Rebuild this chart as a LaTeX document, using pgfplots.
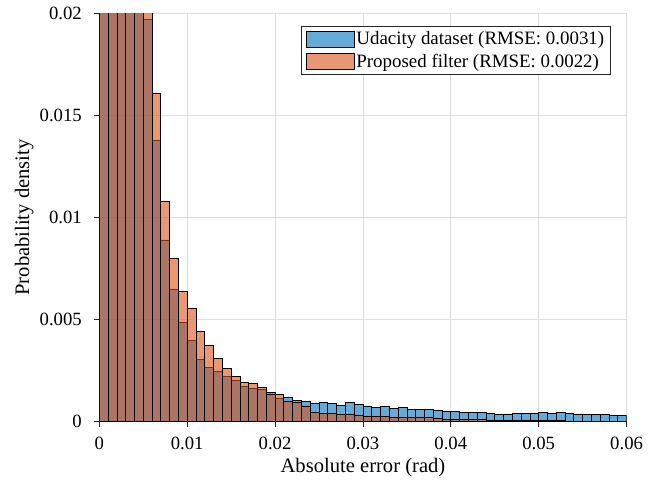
\documentclass[border=0pt]{standalone}
\usepackage{pgfplots}
\pgfplotsset{compat=1.18}
\usepackage{fontspec}
\setmainfont{Liberation Serif}
\definecolor{mblue}{RGB}{0,114,189}
\definecolor{morange}{RGB}{217,83,25}
\definecolor{axc}{RGB}{38,38,38}
\definecolor{gridc}{RGB}{222,222,222}
\begin{document}
\begin{tikzpicture}
\begin{axis}[
  scale only axis,
  width=527.3pt, height=408.4pt,
  xmin=0, xmax=0.06, ymin=0, ymax=0.02,
  axis lines*=left,
  axis line style={axc, line width=0.8pt},
  xtick={0,0.01,0.02,0.03,0.04,0.05,0.06},
  ytick={0,0.005,0.01,0.015,0.02},
  scaled ticks=false,
  xticklabels={0,0.01,0.02,0.03,0.04,0.05,0.06},
  yticklabels={0,0.005,0.01,0.015,0.02},
  tick align=outside,
  major tick length=5pt,
  tick style={axc, line width=0.8pt},
  grid=major,
  major grid style={gridc, line width=0.8pt},
  axis on top=false,
  ticklabel style={font=\fontsize{18.7}{22}\selectfont, text=black},
  xticklabel style={yshift=-7pt},
  yticklabel style={xshift=-9pt},
  xlabel={Absolute error (rad)},
  ylabel={Probability density},
  label style={font=\fontsize{20.6}{24}\selectfont},
  xlabel style={at={(axis description cs:0.5,0)}, anchor=center, yshift=-46pt},
  ylabel style={at={([xshift=-75pt]axis description cs:0,0.5)}, anchor=center},
  legend cell align=left,
  legend style={at={(1,1)}, anchor=north east, xshift=-16pt, yshift=-13pt,
    font=\fontsize{18.9}{22}\selectfont, draw=axc, line width=0.8pt,
    inner xsep=4pt, inner ysep=3pt, row sep=4pt},
]
\addplot[ybar interval, fill=mblue, fill opacity=0.6, draw=black, line width=0.75pt,
  legend image code/.code={\draw[fill=mblue, fill opacity=0.6, draw=black, line width=0.75pt] (0pt,-8pt) rectangle (48pt,8pt);}]
coordinates {
(0.000,0.025)(0.001,0.025)(0.002,0.025)(0.003,0.025)(0.004,0.025)(0.005,0.0197)(0.006,0.0138)(0.007,0.0089)(0.008,0.0065)(0.009,0.00485)
(0.010,0.0040)(0.011,0.00307)(0.012,0.00267)(0.013,0.00245)(0.014,0.00221)(0.015,0.00203)(0.016,0.00173)(0.017,0.00164)(0.018,0.00160)(0.019,0.00143)
(0.020,0.00116)(0.021,0.00119)(0.022,0.00106)(0.023,0.00098)(0.024,0.00092)(0.025,0.00093)(0.026,0.00088)(0.027,0.00080)(0.028,0.00095)(0.029,0.00086)
(0.030,0.00077)(0.031,0.00070)(0.032,0.00074)(0.033,0.00065)(0.034,0.00070)(0.035,0.00060)(0.036,0.00060)(0.037,0.00058)(0.038,0.00054)(0.039,0.00052)
(0.040,0.00049)(0.041,0.00047)(0.042,0.00046)(0.043,0.00044)(0.044,0.00039)(0.045,0.00036)(0.046,0.00038)(0.047,0.00042)(0.048,0.00039)(0.049,0.00041)
(0.050,0.00046)(0.051,0.00042)(0.052,0.00046)(0.053,0.00039)(0.054,0.00038)(0.055,0.00036)(0.056,0.00036)(0.057,0.00036)(0.058,0.00031)(0.059,0.00031)
(0.060,0.00031)
};
\addlegendentry{Udacity dataset (RMSE: 0.0031)}
\addplot[ybar interval, fill=morange, fill opacity=0.6, draw=black, line width=0.75pt,
  legend image code/.code={\draw[fill=morange, fill opacity=0.6, draw=black, line width=0.75pt] (0pt,-8pt) rectangle (48pt,8pt);}]
coordinates {
(0.000,0.025)(0.001,0.025)(0.002,0.025)(0.003,0.025)(0.004,0.025)(0.005,0.025)(0.006,0.0161)(0.007,0.0108)(0.008,0.0080)(0.009,0.0064)
(0.010,0.00556)(0.011,0.0044)(0.012,0.00374)(0.013,0.0031)(0.014,0.0026)(0.015,0.00221)(0.016,0.00191)(0.017,0.00186)(0.018,0.00170)(0.019,0.00136)
(0.020,0.00134)(0.021,0.00100)(0.022,0.00096)(0.023,0.00077)(0.024,0.00046)(0.025,0.00041)(0.026,0.00039)(0.027,0.00037)(0.028,0.00038)(0.029,0.00031)
(0.030,0.00028)(0.031,0.00025)(0.032,0.00024)(0.033,0.00021)(0.034,0.00022)(0.035,0.00020)(0.036,0.00023)(0.037,0.00019)(0.038,0.00014)(0.039,0.00013)
(0.040,0.00011)(0.041,0.00010)(0.042,0.00009)(0.043,0.00009)(0.044,0.00008)(0.045,0.00007)(0.046,0.00006)(0.047,0.00006)(0.048,0.00006)(0.049,0.00005)
(0.050,0.00005)(0.051,0.00005)(0.052,0.00005)(0.053,0.00004)(0.054,0.00004)(0.055,0.00004)(0.056,0.00003)(0.057,0.00003)(0.058,0.00003)(0.059,0.00003)
(0.060,0.00003)
};
\addlegendentry{Proposed filter (RMSE: 0.0022)}
\end{axis}
\pgfresetboundingbox
\path ([shift={(-99.3pt,-68.3pt)}]current axis.south west) rectangle ([shift={(34.4pt,13.3pt)}]current axis.north east);
\end{tikzpicture}
\end{document}
